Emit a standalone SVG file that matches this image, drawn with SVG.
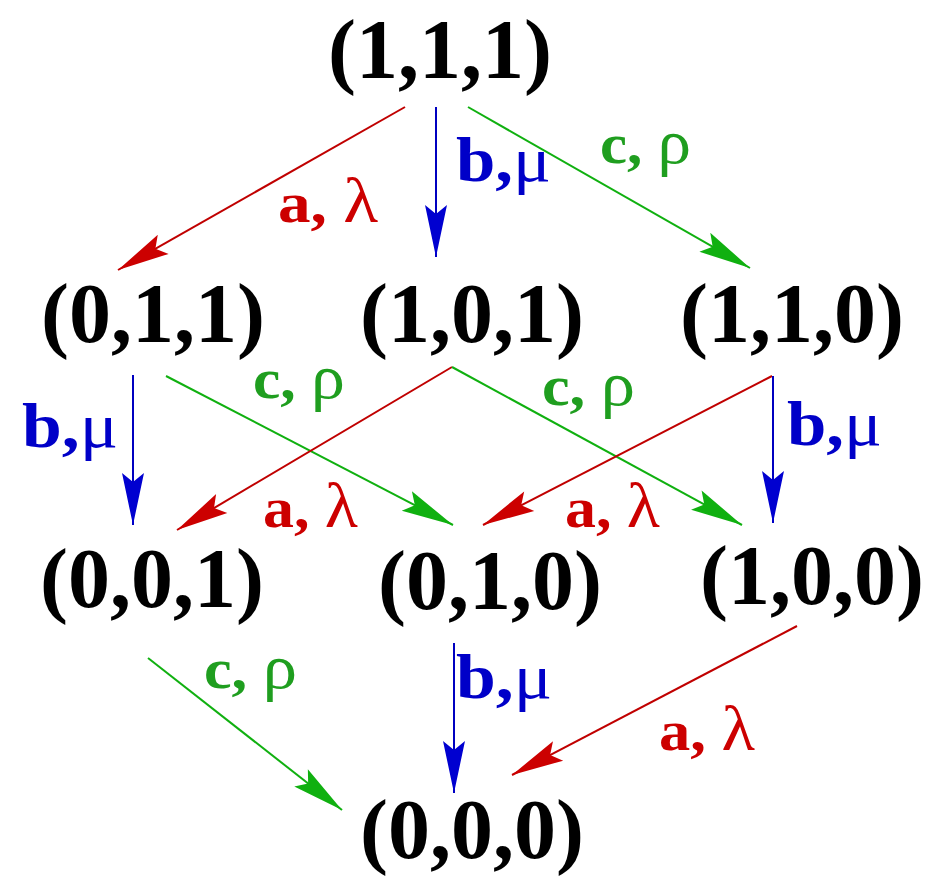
<svg xmlns="http://www.w3.org/2000/svg" width="930" height="876" viewBox="0 0 930 876">
<style>
.node{font-family:"Liberation Serif","Times New Roman",serif;font-weight:bold;font-size:84px;fill:#000;text-anchor:middle}
.lbl{font-family:"Liberation Serif","Times New Roman",serif;font-weight:bold;font-size:58px}
.g{font-weight:normal;font-size:64px}
.lb{font-size:64px;fill:#0000c8}
.la{fill:#cc0000}
.lc{fill:#1f9e1f}
.er{stroke:#c00000;stroke-width:2;fill:none;marker-end:url(#ar)}
.eg{stroke:#10b010;stroke-width:2;fill:none;marker-end:url(#ag)}
.eb{stroke:#0000c0;stroke-width:2;fill:none;marker-end:url(#ab)}
</style>
<defs>
<marker id="ar" markerUnits="userSpaceOnUse" markerWidth="60" markerHeight="30" viewBox="-54 -15 60 30" refX="0" refY="0" orient="auto"><path d="M0,0 L-52,-11 L-43,0 L-52,11 Z" fill="#cc0000"/></marker>
<marker id="ag" markerUnits="userSpaceOnUse" markerWidth="60" markerHeight="30" viewBox="-54 -15 60 30" refX="0" refY="0" orient="auto"><path d="M0,0 L-52,-11 L-43,0 L-52,11 Z" fill="#10b010"/></marker>
<marker id="ab" markerUnits="userSpaceOnUse" markerWidth="60" markerHeight="30" viewBox="-54 -15 60 30" refX="0" refY="0" orient="auto"><path d="M0,0 L-52,-11 L-43,0 L-52,11 Z" fill="#0000d0"/></marker>
</defs>
<rect width="930" height="876" fill="#fff"/>
<g id="connectors">
<g id="e1"><line class="er" x1="405" y1="107" x2="118" y2="270"/><text class="lbl la" x="278" y="222" textLength="100" lengthAdjust="spacingAndGlyphs">a, <tspan class="g">λ</tspan></text></g>
<g id="e2"><line class="eb" x1="436" y1="107" x2="436" y2="257"/><text class="lbl lb" x="456" y="181" textLength="95" lengthAdjust="spacingAndGlyphs">b,<tspan class="g">μ</tspan></text></g>
<g id="e3"><line class="eg" x1="468" y1="107" x2="750" y2="268"/><text class="lbl lc" x="600" y="163" textLength="91" lengthAdjust="spacingAndGlyphs">c, <tspan class="g">ρ</tspan></text></g>
<g id="e4"><line class="eb" x1="133" y1="375" x2="133" y2="525"/><text class="lbl lb" x="22" y="447" textLength="96" lengthAdjust="spacingAndGlyphs">b,<tspan class="g">μ</tspan></text></g>
<g id="e5"><line class="eg" x1="166" y1="376" x2="453" y2="525"/><text class="lbl lc" x="253" y="398" textLength="92" lengthAdjust="spacingAndGlyphs">c, <tspan class="g">ρ</tspan></text></g>
<g id="e6"><line class="er" x1="452" y1="367" x2="177" y2="530"/><text class="lbl la" x="263" y="527" textLength="95" lengthAdjust="spacingAndGlyphs">a, <tspan class="g">λ</tspan></text></g>
<g id="e7"><line class="eg" x1="452" y1="367" x2="742" y2="525"/><text class="lbl lc" x="542" y="405" textLength="93" lengthAdjust="spacingAndGlyphs">c, <tspan class="g">ρ</tspan></text></g>
<g id="e8"><line class="er" x1="772" y1="376" x2="483" y2="525"/><text class="lbl la" x="565" y="527" textLength="95" lengthAdjust="spacingAndGlyphs">a, <tspan class="g">λ</tspan></text></g>
<g id="e9"><line class="eb" x1="773" y1="376" x2="773" y2="523"/><text class="lbl lb" x="787" y="445" textLength="95" lengthAdjust="spacingAndGlyphs">b,<tspan class="g">μ</tspan></text></g>
<g id="e10"><line class="eg" x1="148" y1="658" x2="342" y2="810"/><text class="lbl lc" x="204" y="688" textLength="93" lengthAdjust="spacingAndGlyphs">c, <tspan class="g">ρ</tspan></text></g>
<g id="e11"><line class="eb" x1="454" y1="643" x2="454" y2="793"/><text class="lbl lb" x="456" y="698" textLength="96" lengthAdjust="spacingAndGlyphs">b,<tspan class="g">μ</tspan></text></g>
<g id="e12"><line class="er" x1="797" y1="626" x2="512" y2="775"/><text class="lbl la" x="659" y="750" textLength="96" lengthAdjust="spacingAndGlyphs">a, <tspan class="g">λ</tspan></text></g>
</g>
<g id="n111"><text class="node" x="440" y="78">(1,1,1)</text></g>
<g id="n011"><text class="node" x="153" y="342">(0,1,1)</text></g>
<g id="n101"><text class="node" x="472" y="342">(1,0,1)</text></g>
<g id="n110"><text class="node" x="792" y="342">(1,1,0)</text></g>
<g id="n001"><text class="node" x="152" y="607">(0,0,1)</text></g>
<g id="n010"><text class="node" x="490" y="609">(0,1,0)</text></g>
<g id="n100"><text class="node" x="812" y="604">(1,0,0)</text></g>
<g id="n000"><text class="node" x="472" y="858">(0,0,0)</text></g>
</svg>
